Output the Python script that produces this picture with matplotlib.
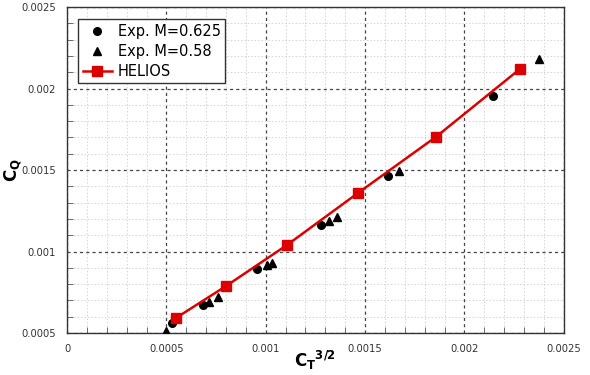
import numpy as np
import matplotlib.pyplot as plt
from matplotlib.ticker import MultipleLocator

# Exp. M=0.625
ct_625 = [0.000528, 0.000684, 0.000956, 0.001278, 0.001615, 0.002143]
cq_625 = [0.000561, 0.000672, 0.000893, 0.001163, 0.001463, 0.001954]

# Exp. M=0.58
ct_58 = [0.000498, 0.000714, 0.000760, 0.001006, 0.001031, 0.001318, 0.001358, 0.001670, 0.002374]
cq_58 = [0.000515, 0.000690, 0.000721, 0.000917, 0.000930, 0.001187, 0.001212, 0.001494, 0.002180]

# HELIOS
ct_hel = [0.000548, 0.000800, 0.001107, 0.001464, 0.001856, 0.002279]
cq_hel = [0.000592, 0.000788, 0.001040, 0.001359, 0.001703, 0.002120]

fig = plt.figure(figsize=(5.9, 3.75), dpi=100)
ax = fig.add_axes([0.1136, 0.112, 0.842, 0.869])

ax.plot(ct_625, cq_625, 'o', color='black', markersize=5.5, label='Exp. M=0.625', zorder=3)
ax.plot(ct_58, cq_58, '^', color='black', markersize=6, label='Exp. M=0.58', zorder=3)
ax.plot(ct_hel, cq_hel, '-s', color='#dd0000', lw=1.8, markersize=7.5, label='HELIOS', zorder=4)

ax.set_xlim(0, 0.0025)
ax.set_ylim(0.0005, 0.0025)
ax.xaxis.set_major_locator(MultipleLocator(0.0005))
ax.yaxis.set_major_locator(MultipleLocator(0.0005))
ax.xaxis.set_minor_locator(MultipleLocator(0.0001))
ax.yaxis.set_minor_locator(MultipleLocator(0.0001))

def fmt(v, pos):
    if abs(v) < 1e-12:
        return '0'
    return ('%.4f' % v).rstrip('0')

ax.xaxis.set_major_formatter(plt.FuncFormatter(fmt))
ax.yaxis.set_major_formatter(plt.FuncFormatter(fmt))

ax.grid(which='major', color='#444444', linestyle=(0, (2.5, 2.5)), lw=0.9)
ax.grid(which='minor', color='#d4d4d4', linestyle=(0, (1.5, 2)), lw=0.7)
ax.set_axisbelow(True)

ax.tick_params(which='both', direction='in', colors='#555555', labelcolor='#333333', labelsize=7.2)
ax.tick_params(which='major', length=0, pad=8)
ax.tick_params(which='minor', length=4)
for s in ax.spines.values():
    s.set_color('#333333')
    s.set_linewidth(1.0)

ax.set_xlabel(r'$\mathbf{C_T}^{\mathbf{3/2}}$', fontsize=12)
ax.xaxis.set_label_coords(0.5, -0.083)
ax.xaxis.label.set_va('center')
ax.set_ylabel(r'$\mathbf{C_Q}$', fontsize=12)
ax.yaxis.set_label_coords(-0.11, 0.5)
ax.yaxis.label.set_va('center')

leg = ax.legend(loc='upper left', bbox_to_anchor=(0.008, 0.985), fontsize=10.5,
                fancybox=False, framealpha=1, edgecolor='#333333',
                borderpad=0.3, labelspacing=0.35, handlelength=2.0, handletextpad=0.4)
leg.get_frame().set_linewidth(1.0)

fig.savefig('out.png', dpi=100)
